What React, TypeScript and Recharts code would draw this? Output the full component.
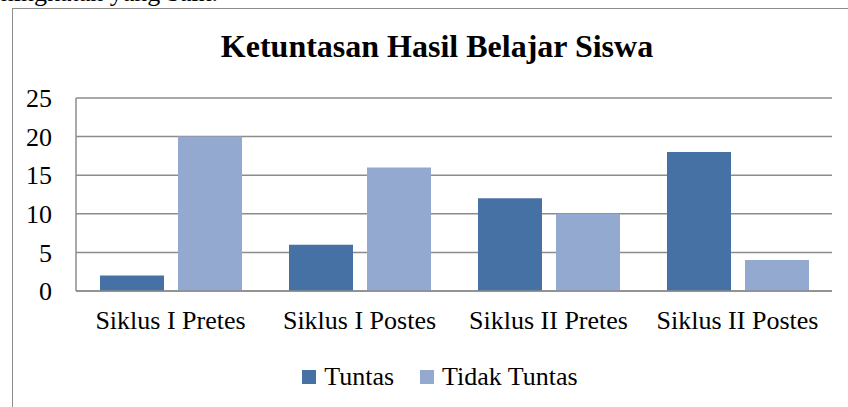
import { BarChart, Bar, XAxis, YAxis, CartesianGrid, Legend } from "recharts";

const categories = ["Siklus I Pretes", "Siklus I Postes", "Siklus II Pretes", "Siklus II Postes"];
const tuntas = [2, 6, 12, 18];
const tidakTuntas = [20, 16, 10, 4];
const yTicks = [0, 5, 10, 15, 20, 25];
const seriesOrder = ["Tuntas", "Tidak Tuntas"];

const data = categories.map((name, i) => ({
  name,
  tuntas: tuntas[i],
  tidakTuntas: tidakTuntas[i],
}));

const font = '"Liberation Serif", "Times New Roman", serif';
const gridColor = "#8c8c8c";

function LegendContent({ payload }: { payload?: any[] }) {
  const items = [...(payload || [])].sort(
    (a, b) => seriesOrder.indexOf(a.value) - seriesOrder.indexOf(b.value)
  );
  return (
    <div
      style={{
        display: "flex",
        justifyContent: "center",
        fontFamily: font,
        fontSize: 26,
        lineHeight: "30px",
        height: 30,
        color: "#000",
      }}
    >
      {items.map((p, i) => (
        <div key={i} style={{ display: "flex", alignItems: "center", marginRight: i === 0 ? 26 : 0 }}>
          <span style={{ display: "inline-block", width: 14, height: 14, background: p.color, marginRight: 8 }} />
          <span>{p.value}</span>
        </div>
      ))}
    </div>
  );
}

export default function App() {
  return (
    <div style={{ position: "absolute", left: 0, top: 0, width: 848, height: 407, overflow: "hidden", background: "#fff" }}>
      <div
        style={{
          position: "absolute",
          right: 630,
          top: -20,
          fontFamily: font,
          fontSize: 26,
          lineHeight: "26px",
          whiteSpace: "nowrap",
        }}
      >
        peningkatan yang baik.
      </div>
      <div
        style={{
          position: "absolute",
          left: 12,
          top: 8,
          width: 900,
          height: 500,
          border: "1.5px solid #8c8c8c",
        }}
      />
      <div
        style={{
          position: "absolute",
          left: 0,
          width: 874,
          top: 29,
          textAlign: "center",
          fontFamily: font,
          fontWeight: "bold",
          fontSize: 32,
          lineHeight: "34px",
        }}
      >
        Ketuntasan Hasil Belajar Siswa
      </div>
      <div style={{ position: "absolute", left: 0, top: 0 }}>
        <BarChart
          width={848}
          height={407}
          data={data}
          margin={{ top: 98, right: 16, bottom: 46, left: 0 }}
          barCategoryGap={24}
          barGap={14}
        >
          <CartesianGrid vertical={false} stroke={gridColor} strokeWidth={1.5} />
          <XAxis
            dataKey="name"
            height={40}
            tickLine={false}
            tickSize={0}
            tickMargin={20}
            axisLine={{ stroke: gridColor, strokeWidth: 1.5 }}
            tick={{ fill: "#000", fontFamily: font, fontSize: 26 }}
            interval={0}
          />
          <YAxis
            width={76}
            domain={[0, 25]}
            ticks={yTicks}
            tickLine={false}
            tickSize={0}
            tickMargin={24}
            axisLine={{ stroke: gridColor, strokeWidth: 1.5 }}
            tick={{ fill: "#000", fontFamily: font, fontSize: 26 }}
          />
          <Legend
            content={<LegendContent />}
            wrapperStyle={{ top: 362, left: 16, width: 848 }}
          />
          <Bar dataKey="tuntas" name="Tuntas" fill="#4671A5" isAnimationActive={false} />
          <Bar dataKey="tidakTuntas" name="Tidak Tuntas" fill="#93A9CF" isAnimationActive={false} />
        </BarChart>
      </div>
    </div>
  );
}
